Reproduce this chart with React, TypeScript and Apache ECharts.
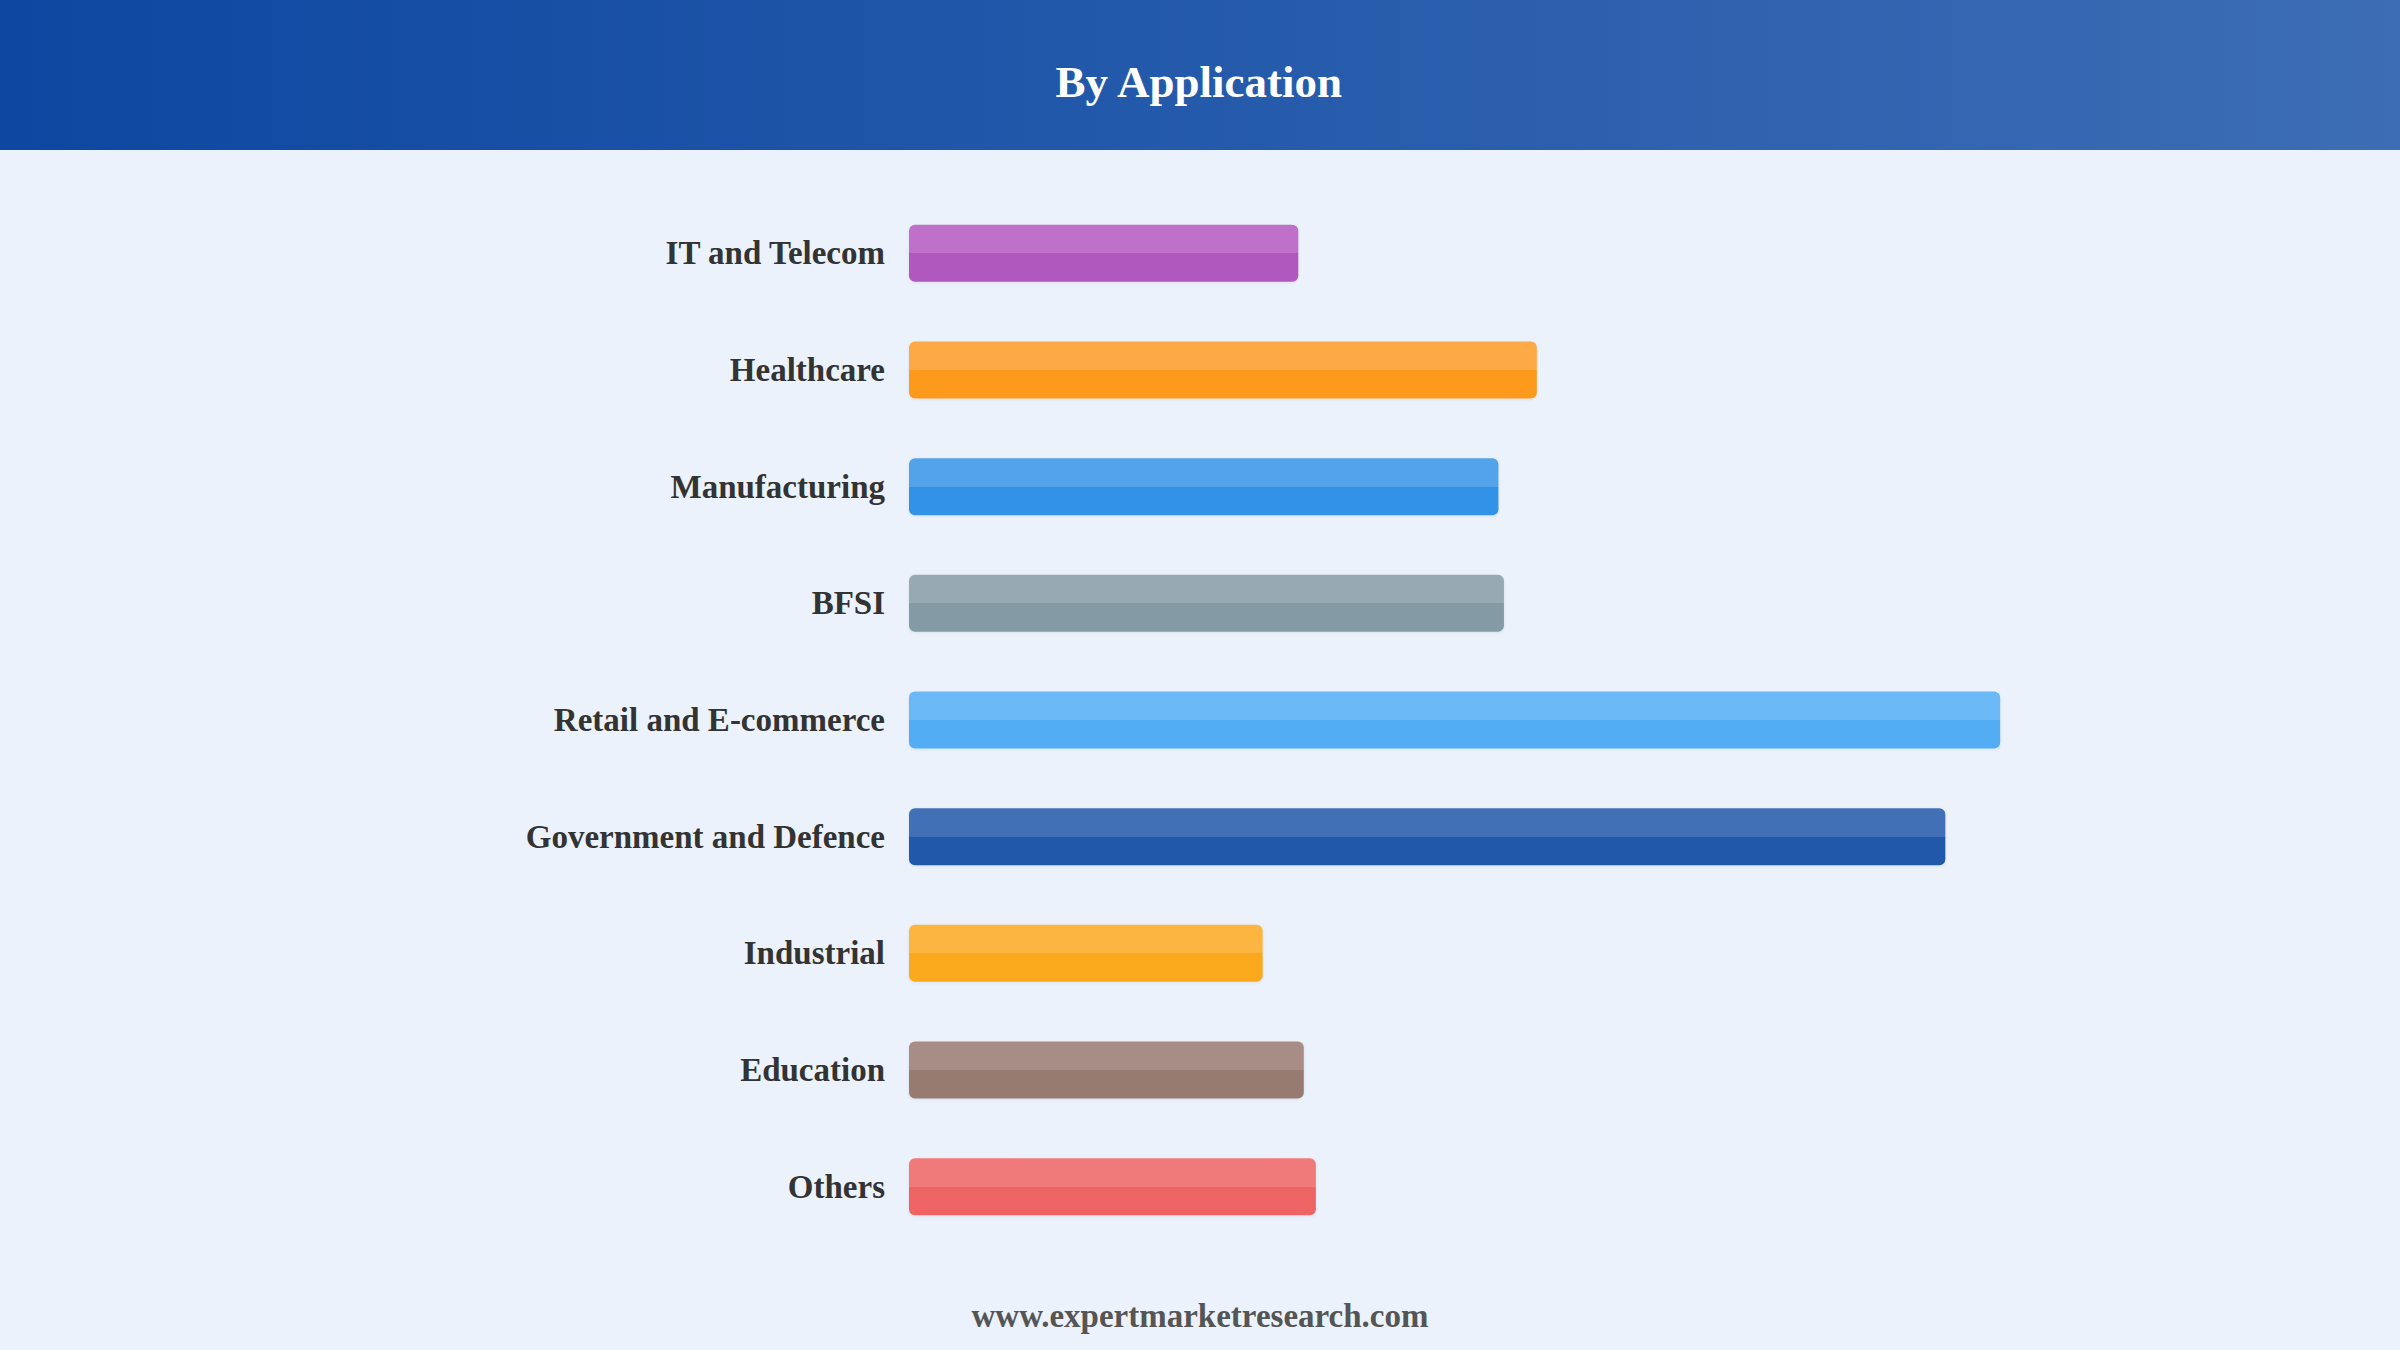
import React, { useEffect, useRef } from "react";
import * as echarts from "echarts";

const categories = [
  "IT and Telecom",
  "Healthcare",
  "Manufacturing",
  "BFSI",
  "Retail and E-commerce",
  "Government and Defence",
  "Industrial",
  "Education",
  "Others",
];
const values = [7.1, 11.45, 10.75, 10.85, 19.9, 18.9, 6.45, 7.2, 7.42];
const topColors = ["#BF6FC8", "#FDA944", "#52A3EB", "#97A9B2", "#6BB9F6", "#4270B6", "#FBB540", "#A78D85", "#F07A7A"];
const baseColors = ["#B059BE", "#FD9A1E", "#3292E8", "#849AA4", "#52ADF4", "#2358AA", "#FBA91C", "#977A70", "#EE6363"];
const titleText = "By Application";
const footerText = "www.expertmarketresearch.com";

const SERIF = "'Liberation Serif', 'Times New Roman', serif";

export default function App() {
  const ref = useRef<HTMLDivElement>(null);
  useEffect(() => {
    document.body.style.margin = "0";
    const chart = echarts.init(ref.current!, null, { renderer: "svg" });
    const data = values.map((v, i) => ({
      value: v,
      itemStyle: {
        color: new echarts.graphic.LinearGradient(0, 0, 0, 1, [
          { offset: 0, color: topColors[i] },
          { offset: 0.5, color: topColors[i] },
          { offset: 0.5, color: baseColors[i] },
          { offset: 1, color: baseColors[i] },
        ]),
      },
    }));
    chart.setOption({
      animation: false,
      backgroundColor: "#EBF2FC",
      graphic: [
        {
          type: "rect",
          left: 0,
          top: 0,
          shape: { width: 2400, height: 150 },
          style: {
            fill: new echarts.graphic.LinearGradient(0, 0, 1, 0, [
              { offset: 0, color: "#0D47A1" },
              { offset: 1, color: "#3C6DB5" },
            ]),
          },
          z: 0,
        },
        {
          type: "text",
          left: "center",
          top: 59,
          style: {
            text: titleText,
            fill: "#ffffff",
            font: `bold 45px ${SERIF}`,
          },
          z: 1,
        },
        {
          type: "text",
          left: "center",
          top: 1299,
          style: {
            text: footerText,
            fill: "#555555",
            font: `bold 33px ${SERIF}`,
          },
        },
      ],
      grid: { left: 909, right: 175, top: 195, bottom: 105, containLabel: false },
      xAxis: { type: "value", min: 0, max: 24, show: false },
      yAxis: {
        type: "category",
        data: categories,
        inverse: true,
        axisLine: { show: false },
        axisTick: { show: false },
        splitLine: { show: false },
        axisLabel: {
          margin: 24,
          color: "#333333",
          fontWeight: "bold",
          fontSize: 33,
          fontFamily: SERIF,
        },
      },
      series: [
        {
          type: "bar",
          data,
          barWidth: 57,
          itemStyle: {
            borderRadius: 6,
            shadowColor: "rgba(0,0,0,0.08)",
            shadowBlur: 3,
            shadowOffsetY: 1,
          },
        },
      ],
    });
    return () => chart.dispose();
  }, []);
  return <div ref={ref} style={{ width: 2400, height: 1350 }} />;
}
